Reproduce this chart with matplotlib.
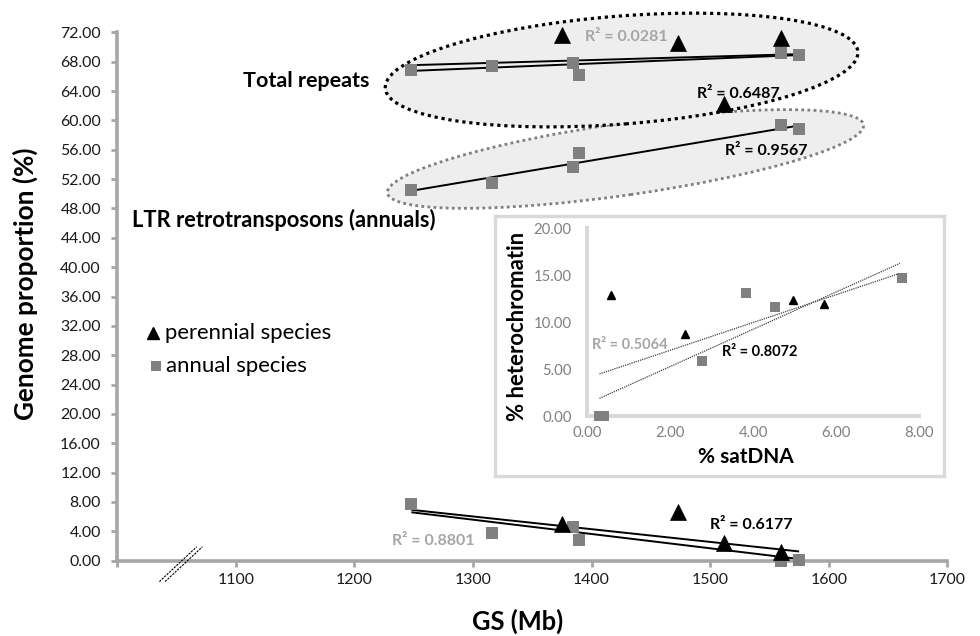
import numpy as np
import matplotlib
matplotlib.use('Agg')
import matplotlib.pyplot as plt
from matplotlib.patches import Ellipse
import matplotlib.transforms as mtransforms
from matplotlib.ticker import FormatStrFormatter

plt.rcParams['font.family'] = ['Lato', 'DejaVu Sans']

# ---------------- data ----------------
gs_annual = [1248, 1316, 1384, 1389, 1560, 1575]
gs_perennial = [1375, 1473, 1512, 1560]

total_annual = [66.83, 67.43, 67.84, 66.19, 69.17, 68.90]
total_perennial = [71.7, 70.6, 62.2, 71.2]
ltr_annual = [50.51, 51.43, 53.62, 55.54, 59.43, 58.88]
sat_annual = [7.77, 3.81, 4.65, 2.79, 0.00, 0.14]
sat_perennial = [4.98, 6.70, 2.35, 1.18]

trend_x = [1248, 1575]
trend_total_a = [67.52, 69.03]
trend_total_b = [66.74, 68.90]
trend_ltr = [50.40, 59.30]
trend_sat_a = [6.93, 1.26]
trend_sat_b = [6.60, 0.23]

r2_labels = [
    ("R\u00b2 = 0.0281", 1429.5, 71.3, '#a6a6a6'),
    ("R\u00b2 = 0.6487", 1523.5, 63.6, 'black'),
    ("R\u00b2 = 0.9567", 1547.0, 55.8, 'black'),
    ("R\u00b2 = 0.8801", 1266.4, 2.7, '#a6a6a6'),
    ("R\u00b2 = 0.6177", 1535.0, 4.86, 'black'),
]

x_ticks = [1000, 1100, 1200, 1300, 1400, 1500, 1600, 1700]
x_ticklabels = ['', '1100', '1200', '1300', '1400', '1500', '1600', '1700']
y_ticks = list(range(0, 73, 4))

# inset data
inset_sat_perennial = [0.59, 2.37, 4.96, 5.70]
inset_het_perennial = [12.86, 8.78, 12.40, 11.90]
inset_sat_annual = [0.30, 0.40, 2.77, 3.83, 4.53, 7.58]
inset_het_annual = [0.00, 0.00, 5.90, 13.15, 11.62, 14.68]
inset_trend_x = [0.30, 7.54]
inset_trend_a = [4.48, 15.20]
inset_trend_b = [1.88, 16.27]
inset_r2 = [("R\u00b2 = 0.5064", 1.04, 7.56, '#a6a6a6'),
            ("R\u00b2 = 0.8072", 4.17, 6.79, 'black')]
inset_xticks = [0, 2, 4, 6, 8]
inset_yticks = [0, 5, 10, 15, 20]

# ---------------- layout helpers ----------------
W, H = 980, 636
fig = plt.figure(figsize=(W / 100, H / 100), dpi=100)
renderer = fig.canvas.get_renderer()


def px_rect(x0, y0, x1, y1):
    return [x0 / W, 1 - y1 / H, (x1 - x0) / W, (y1 - y0) / H]


def fpx(x, y):
    return x / W, 1 - y / H


def fit(t, target, dim='w'):
    bb = t.get_window_extent(renderer)
    cur = bb.width if dim == 'w' else bb.height
    t.set_fontsize(t.get_fontsize() * target / cur)
    return t


def size_for(s, target, weight='normal'):
    t = fig.text(0, 0, s, fontsize=10, fontweight=weight)
    bb = t.get_window_extent(renderer)
    t.remove()
    return 10 * target / bb.width


AX_L, AX_T, AX_R, AX_B = 117.3, 32.3, 947.3, 560.7
ax = fig.add_axes(px_rect(AX_L, AX_T, AX_R, AX_B))
ax.set_xlim(1000, 1700)
ax.set_ylim(0, 72)
ax.set_autoscale_on(False)

spine_col = '#a6a6a6'
for s in ['top', 'right']:
    ax.spines[s].set_visible(False)
for s in ['left', 'bottom']:
    ax.spines[s].set_color(spine_col)
    ax.spines[s].set_linewidth(2.6)
ax.set_xticks(x_ticks)
ax.set_xticklabels(x_ticklabels)
ax.set_yticks(y_ticks)
ax.yaxis.set_major_formatter(FormatStrFormatter('%.2f'))
tick_fs = size_for('72.00', 40.5)
ax.tick_params(axis='both', colors=spine_col, width=2.0, length=4,
               labelcolor='#1a1a1a', labelsize=tick_fs)
ax.tick_params(axis='x', pad=5.0)
ax.tick_params(axis='y', pad=7.8)


def px_ellipse(cx, cy, w, h, angle, **kw):
    tr = mtransforms.ScaledTranslation(cx, cy, ax.transData)
    e = Ellipse((0, 0), w, h, angle=angle, transform=tr, clip_on=False, **kw)
    ax.add_patch(e)


# ellipses (fill + dotted border)
px_ellipse(1428.6, 54.74, 481, 72, 8.16, facecolor='#eeeeee',
           edgecolor='#7f7f7f', linewidth=2.0, linestyle=(0, (1, 1.2)), zorder=1)
px_ellipse(1425.3, 66.86, 474, 108, 4.44, facecolor='#eeeeee',
           edgecolor='black', linewidth=2.3, linestyle=(0, (1, 1.2)), zorder=1.1)

# trend lines
for yy in [trend_total_a, trend_total_b, trend_ltr, trend_sat_a, trend_sat_b]:
    ax.plot(trend_x, yy, color='black', lw=1.4, zorder=2, solid_capstyle='butt')

# markers
for ys in [total_annual, ltr_annual, sat_annual]:
    ax.plot(gs_annual, ys, linestyle='none', marker='s', ms=9,
            color='#808080', mec='#808080', mew=0, zorder=3, clip_on=False)
for ys in [total_perennial, sat_perennial]:
    ax.plot(gs_perennial, ys, linestyle='none', marker='^', ms=12,
            color='black', mec='black', mew=0.5, zorder=4, clip_on=False)

r2_fs = size_for("R\u00b2 = 0.6177", 83, 'bold')
for txt, x, y, c in r2_labels:
    ax.text(x, y, txt, color=c, fontsize=r2_fs, fontweight='bold',
            ha='center', va='center', zorder=5)

t = ax.text(1213.1, 65.41, 'Total repeats', fontsize=14, fontweight='bold',
            ha='right', va='center', color='black')
fit(t, 127)
t = ax.text(1012.1, 46.42, 'LTR retrotransposons (annuals)', fontsize=14,
            fontweight='bold', ha='left', va='center', color='black')
fit(t, 305)

# axis break marks
break_at = 1051
for off in [0, 4.8]:
    ax.plot([break_at - 15.5 + off, break_at + 16 + off], [-2.85, 1.9],
            color='black', lw=0.8, linestyle=(0, (2, 1)), clip_on=False, zorder=6)

# legend
fig.lines.append(plt.Line2D([153.3 / W], [1 - 333.3 / H], marker='^', ms=8,
                            color='black', linestyle='none',
                            transform=fig.transFigure))
fig.lines.append(plt.Line2D([156 / W], [1 - 365.7 / H], marker='s', ms=7,
                            color='#808080', mew=0, linestyle='none',
                            transform=fig.transFigure))
leg_fs = size_for('perennial species', 167)
fig.text(*fpx(165, 339.3), 'perennial species', fontsize=leg_fs, ha='left',
         va='baseline', color='black')
fig.text(*fpx(166, 371.7), 'annual species', fontsize=leg_fs, ha='left',
         va='baseline', color='black')

# axis titles
t = fig.text(*fpx(25, 283.5), 'Genome proportion (%)', rotation=90,
             fontsize=16, fontweight='bold', ha='center', va='center')
fit(t, 273, 'h')
t = fig.text(*fpx(517.6, 621.7), 'GS (Mb)', fontsize=16, fontweight='bold',
             ha='center', va='center')
fit(t, 91.5)

# ---------------- inset ----------------
box = fig.add_axes(px_rect(494.5, 216, 943.5, 476), zorder=5)
box.set_facecolor('white')
box.set_xticks([])
box.set_yticks([])
for s in box.spines.values():
    s.set_color('#d9d9d9')
    s.set_linewidth(2.4)

iax = fig.add_axes(px_rect(587, 228.3, 919, 416), zorder=6)
iax.set_facecolor('none')
iax.set_xlim(0, 8)
iax.set_ylim(0, 20)
for s in ['top', 'right']:
    iax.spines[s].set_visible(False)
for s in ['left', 'bottom']:
    iax.spines[s].set_color('#d9d9d9')
    iax.spines[s].set_linewidth(2.9)
iax.set_xticks(inset_xticks)
iax.set_yticks(inset_yticks)
iax.xaxis.set_major_formatter(FormatStrFormatter('%.2f'))
iax.yaxis.set_major_formatter(FormatStrFormatter('%.2f'))
itick_fs = size_for('20.00', 38)
iax.tick_params(axis='both', length=0, labelcolor='#808080',
                labelsize=itick_fs)
iax.tick_params(axis='x', pad=7.5)
iax.tick_params(axis='y', pad=11)

for yy in [inset_trend_a, inset_trend_b]:
    iax.plot(inset_trend_x, yy, color='#404040', lw=0.9,
             linestyle=(0, (1, 0.8)), zorder=2)
iax.plot(inset_sat_annual, inset_het_annual, linestyle='none', marker='s',
         ms=6.7, mew=0, color='#808080', zorder=3, clip_on=False)
iax.plot(inset_sat_perennial, inset_het_perennial, linestyle='none',
         marker='^', ms=6.3, color='black', zorder=4, clip_on=False)
ir2_fs = size_for("R\u00b2 = 0.8072", 76, 'bold')
for txt, x, y, c in inset_r2:
    iax.text(x, y, txt, color=c, fontsize=ir2_fs, fontweight='bold',
             ha='center', va='center')

t = fig.text(*fpx(517, 326.7), '% heterochromatin', rotation=90, fontsize=14,
             fontweight='bold', ha='center', va='center', zorder=10)
fit(t, 190, 'h')
t = fig.text(*fpx(746, 456.7), '% satDNA', fontsize=14, fontweight='bold',
             ha='center', va='center', zorder=10)
fit(t, 97)

fig.savefig('out.png', dpi=100, facecolor='white')
